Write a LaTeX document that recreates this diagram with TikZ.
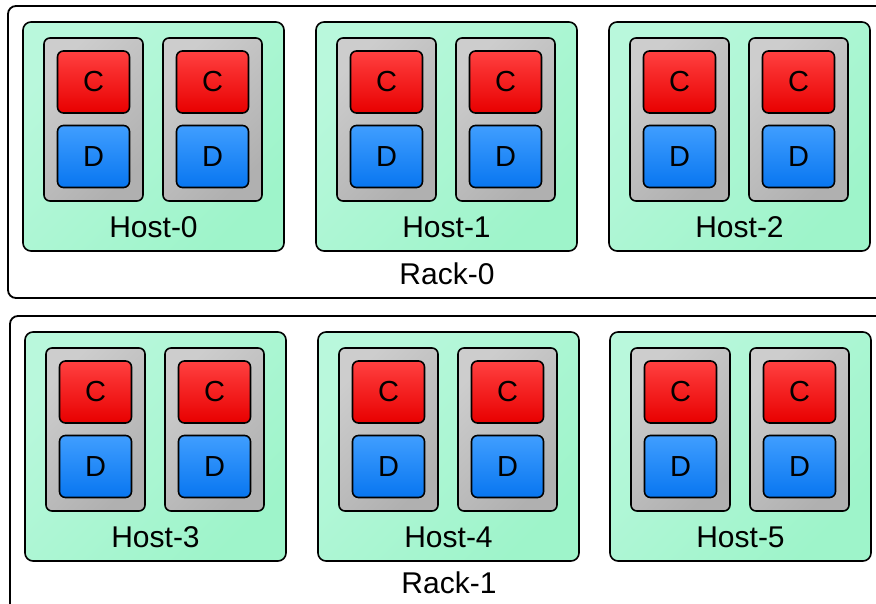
\documentclass[tikz,border=0pt]{standalone}
\usepackage{fontspec}
\setmainfont{Liberation Sans}
\usetikzlibrary{positioning}
\definecolor{hostlight}{RGB}{185,248,220}
\definecolor{hostdark}{RGB}{158,244,202}
\definecolor{srvlight}{RGB}{205,205,205}
\definecolor{srvdark}{RGB}{176,176,176}
\definecolor{cpulight}{RGB}{255,64,64}
\definecolor{cpudark}{RGB}{232,0,0}
\definecolor{disklight}{RGB}{64,158,255}
\definecolor{diskdark}{RGB}{8,118,240}

\begin{document}
\begin{tikzpicture}[x=1pt,y=-1pt]
        \tikzstyle{rack}=[draw,line width=1.8pt,rounded corners=8pt,fill=white]
        \tikzstyle{host}=[draw,line width=1.6pt,rounded corners=8pt,top color=hostlight,bottom color=hostdark,shading angle=45,minimum width=261pt,minimum height=229pt,inner sep=0pt]
        \tikzstyle{server}=[draw,line width=1.6pt,rounded corners=6pt,top color=srvlight,bottom color=srvdark,shading angle=45,minimum width=99pt,minimum height=163pt,inner sep=0pt]
        \tikzstyle{part}=[draw,line width=1.6pt,rounded corners=6pt,shading angle=45,minimum width=72pt,minimum height=62pt,inner sep=0pt,font=\fontsize{29}{33}\selectfont]
        \tikzstyle{cpu}=[part,top color=cpulight,bottom color=cpudark]
        \tikzstyle{disk}=[part,top color=disklight,bottom color=diskdark]
        \tikzstyle{caption}=[inner sep=0pt,font=\fontsize{30}{34}\selectfont]

        \useasboundingbox (0,0) rectangle (876,604);
        \clip (0,0) rectangle (876,604);

        % Racks
        \draw[rack] (8,6) rectangle (900,298);
        \node[caption] (rack0) at (447,274) {Rack-0};
        \draw[rack] (10,316) rectangle (900,640);
        \node[caption] (rack1) at (449,583) {Rack-1};

        % Hosts with their two servers
        \foreach \i/\hx/\hy in {0/23/22,1/316/22,2/609/22,3/25/332,4/318/332,5/610/332}{
            \begin{scope}[shift={(\hx,\hy)}]
                \node[host] (host\i) at (130.5,114.5) {};
                \node[caption] (hostlabel\i) at (130.5,205) {Host-\i};
                \foreach \s/\sx in {a/70.5,b/189.5}{
                    \node[server] (srv\i\s) at (\sx,97.5) {};
                    \node[cpu] (cpu\i\s) at (\sx,60) {C};
                    \node[disk] (disk\i\s) at (\sx,134.5) {D};
                }
            \end{scope}
        }
\end{tikzpicture}
\end{document}
